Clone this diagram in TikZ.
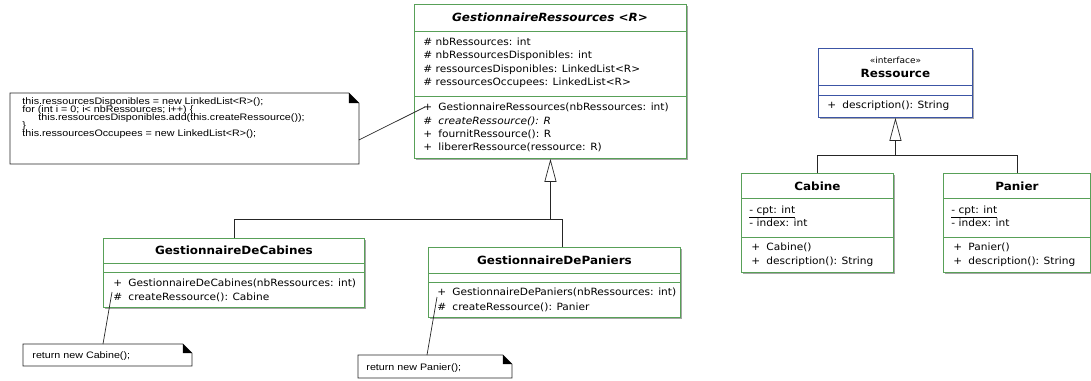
\documentclass[tikz,border=0pt]{standalone}
\usepackage{fontspec}
\setmainfont[FakeStretch=1.06]{DejaVu Sans}
\newfontfamily\notefont[FakeStretch=1.14]{Liberation Sans}
\usetikzlibrary{arrows.meta,shadows}
\definecolor{umlgreen}{RGB}{88,160,88}
\definecolor{umlblue}{RGB}{60,85,165}
\newcommand{\vis}[2]{\makebox[15pt][l]{#1}#2}
\begin{document}
\begin{tikzpicture}[x=1pt,y=-1pt,line width=.9pt,
  cls/.style={draw=umlgreen,fill=white,anchor=north west,inner sep=0,
    drop shadow={shadow xshift=2pt,shadow yshift=-2pt,fill=black!35,opacity=1}},
  ifc/.style={cls,draw=umlblue},
  sep/.style={umlgreen},
  txt/.style={anchor=base west,inner sep=0,font=\fontsize{10}{11}\selectfont},
  ttl/.style={anchor=base,inner sep=0,font=\fontsize{11.3}{13}\selectfont\bfseries},
  notebox/.style={anchor=north west,inner sep=0},
  notetxt/.style={anchor=base west,inner sep=0,font=\notefont\fontsize{9.4}{9.4}\selectfont},
  link/.style={line width=.7pt,black!85},
  inherit/.style={line width=.7pt,black!85,-{Triangle[open,width=12pt,length=23pt,line width=.7pt]}}]
\useasboundingbox (0,0) rectangle (1091,380);
% GestionnaireRessources
\node[cls,minimum width=272,minimum height=154] (gr) at (414,4) {};
\draw[sep] (gr.west|-0,31)--(gr.east|-0,31);\draw[sep] (gr.west|-0,96)--(gr.east|-0,96);
\node[ttl,font=\fontsize{11.3}{13}\selectfont\bfseries\itshape] (grt) at (550,21) {GestionnaireRessources <R>};
\node[txt] (gra1) at (423,45.5) {\# nbRessources: int};
\node[txt] (gra2) at (423,58.8) {\# nbRessourcesDisponibles: int};
\node[txt] (gra3) at (423,72.1) {\# ressourcesDisponibles: LinkedList<R>};
\node[txt] (gra4) at (423,85.4) {\# ressourcesOccupees: LinkedList<R>};
\node[txt] (grm1) at (423,110.5) {\vis{+}{GestionnaireRessources(nbRessources: int)}};
\node[txt] (grm2) at (423,124) {\vis{\#}{\itshape createRessource(): R}};
\node[txt] (grm3) at (423,137.5) {\vis{+}{fournitRessource(): R}};
\node[txt] (grm4) at (423,150.5) {\vis{+}{libererRessource(ressource: R)}};
% note on the constructor
\node[notebox,minimum width=348,minimum height=70] (n1) at (10,93) {};
\draw[link,fill=white] (n1.north west)--([xshift=-10pt]n1.north east)--([yshift=-10pt]n1.north east)--(n1.south east)--(n1.south west)--cycle;
\fill ([xshift=-10pt]n1.north east)--([xshift=-10pt,yshift=-10pt]n1.north east)--([yshift=-10pt]n1.north east)--cycle;
\node[notetxt] (n1a) at (22,104.5) {this.ressourcesDisponibles = new LinkedList<R>();};
\node[notetxt] (n1b) at (22,112.5) {for (int i = 0; i< nbRessources; i++) \{};
\node[notetxt] (n1c) at (38,120.5) {this.ressourcesDisponibles.add(this.createRessource());};
\node[notetxt] (n1d) at (22,128.5) {\}};
\node[notetxt] (n1e) at (22,136.5) {this.ressourcesOccupees = new LinkedList<R>();};
\coordinate (n1p) at (425,107);
\draw[link] (n1.east|-0,140)--(n1p);
% GestionnaireDeCabines
\node[cls,minimum width=261,minimum height=69] (gc) at (103,238) {};
\draw[sep] (gc.west|-0,263)--(gc.east|-0,263);\draw[sep] (gc.west|-0,272)--(gc.east|-0,272);
\node[ttl] (gct) at (gc.center|-0,254.5) {GestionnaireDeCabines};
\node[txt] (gcm1) at (113,286.5) {\vis{+}{GestionnaireDeCabines(nbRessources: int)}};
\node[txt] (gcm2) at (113,300.5) {\vis{\#}{createRessource(): Cabine}};
% GestionnaireDePaniers
\node[cls,minimum width=252,minimum height=70] (gp) at (428,247) {};
\draw[sep] (gp.west|-0,273)--(gp.east|-0,273);\draw[sep] (gp.west|-0,282)--(gp.east|-0,282);
\node[ttl] (gpt) at (gp.center|-0,264.5) {GestionnaireDePaniers};
\node[txt] (gpm1) at (437,295.5) {\vis{+}{GestionnaireDePaniers(nbRessources: int)}};
\node[txt] (gpm2) at (437,310.5) {\vis{\#}{createRessource(): Panier}};
% notes on createRessource
\node[notebox,minimum width=168,minimum height=21] (n2) at (23,344) {};
\draw[link,fill=white] (n2.north west)--([xshift=-9pt]n2.north east)--([yshift=-9pt]n2.north east)--(n2.south east)--(n2.south west)--cycle;
\fill ([xshift=-9pt]n2.north east)--([xshift=-9pt,yshift=-9pt]n2.north east)--([yshift=-9pt]n2.north east)--cycle;
\node[notetxt] (n2a) at (32,358.5) {return new Cabine();};
\coordinate (n2p) at (112,292);
\draw[link] (n2.north west-|103,0)--(n2p);
\node[notebox,minimum width=153,minimum height=22] (n3) at (358,355) {};
\draw[link,fill=white] (n3.north west)--([xshift=-9pt]n3.north east)--([yshift=-9pt]n3.north east)--(n3.south east)--(n3.south west)--cycle;
\fill ([xshift=-9pt]n3.north east)--([xshift=-9pt,yshift=-9pt]n3.north east)--([yshift=-9pt]n3.north east)--cycle;
\node[notetxt] (n3a) at (366,370) {return new Panier();};
\coordinate (n3p) at (437,297);
\draw[link] (n3.north west-|427,0)--(n3p);
% generalisation
\coordinate (h1) at (gr.south|-0,219);
\draw[link] (gc.north)|-(h1);\draw[link] ([xshift=8pt]gp.north)|-(h1);
\draw[inherit] (h1)--(gr.south);
% Ressource
\node[ifc,minimum width=154,minimum height=69] (rs) at (818,48) {};
\draw[umlblue] (rs.west|-0,85)--(rs.east|-0,85);\draw[umlblue] (rs.west|-0,95)--(rs.east|-0,95);
\node[anchor=base,inner sep=0,font=\fontsize{8.5}{9}\selectfont] (rss) at (rs.center|-0,63) {«interface»};
\node[ttl] (rst) at (rs.center|-0,77.5) {Ressource};
\node[txt] (rsm1) at (827,108.5) {\vis{+}{description(): String}};
% Cabine
\node[cls,minimum width=152,minimum height=99] (cb) at (741,173) {};
\draw[sep] (cb.west|-0,198)--(cb.east|-0,198);\draw[sep] (cb.west|-0,237)--(cb.east|-0,237);
\node[ttl] (cbt) at (cb.center|-0,190.5) {Cabine};
\node[txt] (cba1) at (749,213.5) {\underline{- cpt: int}};
\node[txt] (cba2) at (749,226.5) {- index: int};
\node[txt] (cbm1) at (751,250.5) {\vis{+}{Cabine()}};
\node[txt] (cbm2) at (751,264.5) {\vis{+}{description(): String}};
% Panier
\node[cls,minimum width=147,minimum height=99] (pn) at (943,173) {};
\draw[sep] (pn.west|-0,198)--(pn.east|-0,198);\draw[sep] (pn.west|-0,237)--(pn.east|-0,237);
\node[ttl] (pnt) at (pn.center|-0,190.5) {Panier};
\node[txt] (pna1) at (951,213.5) {\underline{- cpt: int}};
\node[txt] (pna2) at (951,226.5) {- index: int};
\node[txt] (pnm1) at (953,250.5) {\vis{+}{Panier()}};
\node[txt] (pnm2) at (953,264.5) {\vis{+}{description(): String}};
\coordinate (h2) at (rs.south|-0,155);
\draw[link] (cb.north)|-(h2);\draw[link] (pn.north)|-(h2);
\draw[inherit] (h2)--(rs.south);
\end{tikzpicture}
\end{document}
